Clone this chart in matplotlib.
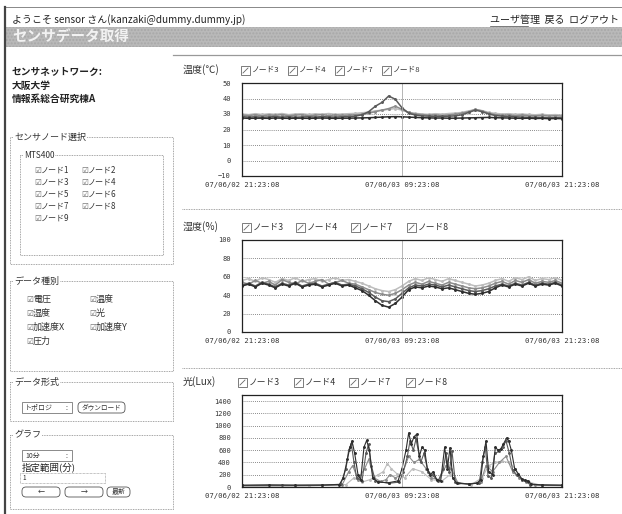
import matplotlib.pyplot as plt
from matplotlib.patches import Rectangle, FancyBboxPatch

plt.rcParams['font.family'] = ['Noto Sans CJK JP', 'DejaVu Sans']

W, H = 622, 514

# 時刻 (07/06/02 21:23:08 からの経過時間, h)
hours = [0, 0.5, 1, 1.5, 2, 2.5, 3, 3.5, 4, 4.5, 5, 5.5, 6, 6.5, 7, 7.5,
         8, 8.5, 9, 9.5, 10, 10.5, 11, 11.5, 12, 12.5, 13, 13.5, 14, 14.5,
         15, 15.5, 16, 16.5, 17, 17.5, 18, 18.5, 19, 19.5, 20, 20.5, 21,
         21.5, 22, 22.5, 23, 23.5, 24]
xtick_labels = ['07/06/02 21:23:08', '07/06/03 09:23:08', '07/06/03 21:23:08']
nodes = ['ノード3', 'ノード4', 'ノード7', 'ノード8']

# 温度 (℃)
temp_n3 = [29.3, 29.0, 29.5, 28.8, 29.4, 29.1, 29.6, 28.9, 29.3, 29.5, 28.9, 29.2, 29.6, 29.0, 29.4, 29.1,
           29.3, 29.5, 29.8, 30.5, 31.5, 32.5, 33.5, 35.0, 33.0, 31.0, 30.0, 29.6, 29.2, 29.5, 29.0, 29.4,
           29.8, 30.5, 31.5, 33.0, 32.0, 30.5, 29.6, 29.2, 29.4, 28.9, 29.3, 29.0, 28.8, 29.1, 28.7, 28.9, 28.6]
temp_n4 = [27.4, 27.2, 27.3, 27.3, 27.2, 27.4, 27.3, 27.2, 27.3, 27.3, 27.2, 27.3, 27.4, 27.3, 27.2, 27.3,
           27.3, 27.4, 27.5, 27.6, 27.8, 28.0, 28.2, 28.3, 28.2, 28.0, 27.8, 27.6, 27.5, 27.4, 27.4, 27.3,
           27.3, 27.4, 27.5, 27.6, 27.7, 27.8, 27.6, 27.5, 27.4, 27.3, 27.2, 27.3, 27.1, 27.2, 27.0, 27.1, 27.0]
temp_n7 = [30.0, 29.6, 30.2, 29.7, 30.1, 29.8, 30.3, 29.6, 30.0, 30.2, 29.7, 30.1, 29.9, 30.3, 29.8, 30.0,
           30.2, 30.4, 30.8, 31.2, 32.0, 32.5, 33.0, 33.5, 32.5, 31.0, 30.4, 30.0, 29.8, 30.2, 29.9, 30.3,
           30.6, 31.0, 32.0, 32.8, 32.2, 31.0, 30.4, 30.0, 30.2, 29.8, 30.0, 29.7, 29.5, 29.8, 29.4, 29.6, 29.3]
temp_n8 = [28.3, 28.0, 28.2, 27.9, 28.1, 28.3, 28.0, 28.2, 27.9, 28.1, 28.2, 28.0, 28.3, 28.1, 28.0, 28.2,
           28.3, 28.6, 29.5, 31.5, 35.0, 37.5, 41.6, 39.5, 34.0, 30.5, 29.3, 28.8, 28.6, 28.5, 28.4, 28.6,
           28.8, 29.5, 31.0, 32.5, 31.5, 30.0, 29.0, 28.6, 28.4, 28.2, 28.0, 27.9, 27.8, 27.8, 27.6, 27.7, 27.5]

# 湿度 (%)
hum_n3 = [54, 52, 56, 53, 55, 51, 57, 54, 52, 56, 53, 55, 57, 52, 54, 56, 53, 52, 49, 46, 43, 41, 40, 42, 46,
          51, 54, 52, 55, 53, 51, 54, 52, 50, 48, 47, 48, 50, 53, 55, 52, 56, 54, 57, 53, 55, 54, 56, 53]
hum_n4 = [50, 52, 49, 53, 51, 48, 52, 50, 53, 49, 51, 52, 49, 51, 53, 50, 51, 48, 45, 40, 34, 29, 27, 31, 38,
          46, 49, 48, 50, 49, 47, 48, 46, 44, 42, 41, 42, 44, 48, 51, 49, 52, 50, 53, 50, 52, 51, 53, 50]
hum_n7 = [56, 58, 55, 59, 57, 54, 58, 56, 59, 55, 57, 58, 55, 57, 59, 56, 57, 55, 53, 50, 47, 45, 44, 46, 50,
          55, 58, 56, 59, 57, 55, 58, 56, 54, 52, 50, 51, 53, 56, 58, 55, 59, 57, 60, 56, 58, 57, 59, 56]
hum_n8 = [51, 53, 50, 54, 52, 49, 53, 51, 54, 50, 52, 53, 50, 52, 54, 51, 52, 50, 47, 43, 38, 34, 33, 36, 42,
          48, 51, 50, 52, 51, 49, 51, 49, 47, 45, 44, 45, 47, 50, 52, 50, 53, 51, 54, 51, 53, 52, 54, 51]

# 光 (Lux)
lux_n3_t = [0, 4, 7.5, 8.0, 8.3, 8.7, 9.2, 9.5, 9.9, 10.4, 10.8, 11.1, 11.5, 12.0, 12.5, 12.9, 13.3,
            13.8, 14.2, 14.8, 15.3, 15.7, 16.2, 17.0, 17.9, 18.3, 18.8, 19.3, 19.8, 20.3, 20.8, 21.3, 22, 24]
lux_n3 = [20, 22, 30, 250, 350, 120, 300, 450, 150, 90, 120, 200, 150, 200, 500, 400, 450,
          300, 150, 120, 350, 300, 60, 50, 80, 350, 250, 400, 500, 250, 150, 80, 30, 25]
lux_n4_t = [0, 2, 4, 6, 7.3, 7.6, 7.9, 8.1, 8.25, 8.45, 8.7, 8.9, 9.15, 9.35, 9.55, 9.8, 10.2, 11.0,
            11.7, 12.0, 12.3, 12.5, 12.7, 12.9, 13.1, 13.3, 13.5, 13.7, 13.9, 14.1, 14.35, 14.6, 14.9,
            15.2, 15.4, 15.6, 15.8, 16.1, 17.0, 17.6, 17.9, 18.1, 18.3, 18.5, 18.8, 19.0, 19.2, 19.4,
            19.6, 19.85, 20.0, 20.2, 20.45, 20.7, 21.0, 21.25, 21.45, 21.7, 22.5, 24]
lux_n4 = [30, 35, 30, 32, 40, 150, 450, 650, 750, 550, 200, 120, 650, 760, 600, 150, 80, 70,
          100, 300, 600, 880, 700, 820, 860, 500, 650, 600, 300, 200, 250, 120, 100,
          650, 300, 640, 150, 60, 50, 60, 120, 500, 750, 250, 200, 650, 600, 620,
          700, 800, 750, 600, 300, 220, 130, 110, 100, 45, 35, 30]
lux_n7_t = [0, 5, 7.8, 8.4, 9.0, 9.6, 10.2, 10.6, 10.9, 11.2, 11.6, 12.2, 12.8, 13.5, 14.2, 15.0,
            15.6, 16.3, 17.2, 18.0, 18.5, 19.0, 19.5, 20.0, 20.5, 21.0, 21.5, 22.5, 24]
lux_n7 = [15, 18, 40, 150, 80, 120, 200, 250, 380, 300, 220, 150, 300, 250, 120, 100,
          200, 60, 40, 150, 350, 400, 420, 400, 300, 120, 80, 25, 20]
lux_n8_t = [0, 3, 6, 7.4, 7.8, 8.0, 8.2, 8.4, 8.6, 9.0, 9.3, 9.5, 9.7, 10.0, 11.0, 11.8, 12.1,
            12.4, 12.6, 12.85, 13.05, 13.4, 13.65, 13.95, 14.3, 14.7, 15.1, 15.3, 15.55, 15.75, 16.0,
            17.0, 17.8, 18.0, 18.25, 18.45, 18.7, 18.95, 19.3, 19.55, 19.8, 20.05, 20.3, 20.6, 21.0,
            21.3, 21.6, 22.5, 24]
lux_n8 = [25, 28, 30, 45, 300, 600, 700, 400, 150, 100, 550, 700, 350, 100, 60, 80, 250,
          500, 750, 600, 780, 400, 550, 250, 200, 90, 300, 550, 250, 580, 80,
          45, 70, 400, 650, 180, 150, 550, 580, 650, 750, 550, 280, 200, 120,
          90, 40, 30, 28]

node_colors = {'ノード3': '#8c8c8c', 'ノード4': '#2e2e2e', 'ノード7': '#bdbdbd', 'ノード8': '#5a5a5a'}
draw_order = ['ノード7', 'ノード3', 'ノード8', 'ノード4']

fig = plt.figure(figsize=(W / 100, H / 100), dpi=100)
bg = fig.add_axes([0, 0, 1, 1])
bg.set_xlim(0, W)
bg.set_ylim(H, 0)
bg.axis('off')


def px_rect(x0, y0, x1, y1):
    return [x0 / W, 1 - y1 / H, (x1 - x0) / W, (y1 - y0) / H]


def txt(x, y, s, size=6.5, color='#222', **kw):
    bg.text(x, y, s, fontsize=size, va='center', ha='left', color=color, **kw)


def fieldset(x0, y0, x1, y1, label, lx, size=6.5):
    bg.add_patch(Rectangle((x0, y0), x1 - x0, y1 - y0, fill=False, ec='#888',
                           lw=0.6, ls=(0, (1, 1))))
    bg.text(lx, y0, label, fontsize=size, va='center', ha='left', color='#333',
            bbox=dict(fc='white', ec='none', pad=0.6))


def check(x, y, s, size=5.8):
    bg.text(x, y, '☑', fontsize=5.5, va='center', ha='left', color='#666',
            family=['DejaVu Sans'])
    txt(x + 7, y, s, size=size, color='#333')


def button(x0, y0, x1, y1, s, size=5):
    bg.add_patch(FancyBboxPatch((x0, y0), x1 - x0, y1 - y0,
                                boxstyle='round,pad=0,rounding_size=4',
                                fc='white', ec='#555', lw=0.6))
    bg.text((x0 + x1) / 2, (y0 + y1) / 2, s, fontsize=size, va='center',
            ha='center', color='#333')


def select(x0, y0, x1, y1, s, size=5):
    bg.add_patch(Rectangle((x0, y0), x1 - x0, y1 - y0, fc='white', ec='#777', lw=0.6))
    txt(x0 + 3, (y0 + y1) / 2, s, size=size, color='#333')
    txt(x1 - 7, (y0 + y1) / 2, ':', size=size, color='#333')


# ページ枠とヘッダ
bg.plot([5, W], [7, 7], color='#888', lw=0.7)
bg.plot([5, 5], [7, H], color='#444', lw=1.6)
txt(12, 20, 'ようこそ sensor さん(kanzaki@dummy.dummy.jp)', size=7.2)
txt(490, 20, 'ユーザ管理  戻る  ログアウト', size=7.2)
bg.plot([490, 528], [26, 26], color='#444', lw=0.5)
bg.add_patch(Rectangle((5, 27), W - 5, 20, fc='#b9b9b9', ec='#a8a8a8', lw=0, hatch='.....'))
txt(12, 37, 'センサデータ取得', size=10.5, color='#f2f2f2', weight='bold')
bg.plot([173, W], [55, 55], color='#999', lw=0.9)

# サイドバー
txt(12, 72, 'センサネットワーク:', size=7, weight='bold')
txt(12, 86, '大阪大学', size=7, weight='bold')
txt(12, 99, '情報系総合研究棟A', size=7, weight='bold')

fieldset(10, 137, 173, 264, 'センサノード選択', 14)
fieldset(20, 155, 163, 255, 'MTS400', 24, size=6)
node_rows = [['ノード1', 'ノード2'], ['ノード3', 'ノード4'], ['ノード5', 'ノード6'],
             ['ノード7', 'ノード8'], ['ノード9']]
for i, row in enumerate(node_rows):
    for j, s in enumerate(row):
        check(34 + 47 * j, 170 + 12 * i, s)

fieldset(10, 281, 173, 371, 'データ種別', 14)
kinds = [['電圧', '温度'], ['湿度', '光'], ['加速度X', '加速度Y'], ['圧力']]
for i, row in enumerate(kinds):
    for j, s in enumerate(row):
        check(26 + 63 * j, 299 + 14 * i, s, size=6.5)

fieldset(10, 382, 173, 421, 'データ形式', 14)
select(22, 402, 72, 413, 'トポロジ')
button(78, 402, 125, 413, 'ダウンロード', size=4.8)

fieldset(10, 435, 173, 509, 'グラフ', 14)
select(22, 450, 72, 461, '10分')
txt(22, 467, '指定範囲(分)', size=6.8)
bg.add_patch(Rectangle((20, 473), 85, 10, fc='white', ec='#888', lw=0.5, ls=(0, (1, 1))))
txt(22, 478, '1', size=4.5)
button(22, 487, 60, 497, '←')
button(65, 487, 103, 497, '→')
button(107, 487, 130, 497, '最新')

# 区切り線
for y in [209, 368]:
    bg.plot([182, W], [y, y], color='#888', lw=0.6, ls=(0, (1, 1)))


def chart(top, bottom, ylim, yticks, series, title, title_y, icon_xs, leg_size, lw):
    ax = fig.add_axes(px_rect(242, top, 562, bottom))
    for name in draw_order:
        t, v = series[name]
        ax.plot(t, v, color=node_colors[name], lw=lw, marker='.', ms=2.2)
    ax.set_xlim(0, 24)
    ax.set_ylim(*ylim)
    ax.set_yticks(yticks)
    ax.set_xticks([0, 12, 24])
    ax.set_xticklabels(xtick_labels)
    ax.grid(axis='y', ls=(0, (1, 1.5)), color='#666', lw=0.6)
    ax.axvline(12, color='#aaa', lw=0.6)
    ax.tick_params(axis='y', length=0, labelsize=5, pad=8, labelcolor='#333')
    ax.tick_params(axis='x', length=0, labelsize=5.2, pad=4, labelcolor='#333')
    for lab in ax.get_xticklabels() + ax.get_yticklabels():
        lab.set_family('DejaVu Sans Mono')
    for sp in ax.spines.values():
        sp.set_color('#222')
        sp.set_linewidth(0.9)
    txt(183, title_y, title, size=7.2, color='#333')
    for x, name in zip(icon_xs, nodes):
        bg.add_patch(Rectangle((x, title_y - 4.5), 9, 9, fc='white', ec='#666', lw=0.6))
        bg.plot([x + 2, x + 7], [title_y + 3, title_y - 2], color='#666', lw=0.6)
        txt(x + 11, title_y, name, size=leg_size, color='#333')
    return ax


chart(83, 176, (-10, 50), [-10, 0, 10, 20, 30, 40, 50],
      {'ノード3': (hours, temp_n3), 'ノード4': (hours, temp_n4),
       'ノード7': (hours, temp_n7), 'ノード8': (hours, temp_n8)},
      '温度(℃)', 70, [241, 288, 335, 382], 5.6, 1.1)

chart(240, 332, (0, 100), [0, 20, 40, 60, 80, 100],
      {'ノード3': (hours, hum_n3), 'ノード4': (hours, hum_n4),
       'ノード7': (hours, hum_n7), 'ノード8': (hours, hum_n8)},
      '湿度(%)', 227, [242, 296, 351, 407], 6.3, 1.1)

chart(395, 487, (0, 1500), [0, 200, 400, 600, 800, 1000, 1200, 1400],
      {'ノード3': (lux_n3_t, lux_n3), 'ノード4': (lux_n4_t, lux_n4),
       'ノード7': (lux_n7_t, lux_n7), 'ノード8': (lux_n8_t, lux_n8)},
      '光(Lux)', 382, [238, 294, 349, 406], 6.3, 0.8)

fig.savefig('out.png', dpi=100)
